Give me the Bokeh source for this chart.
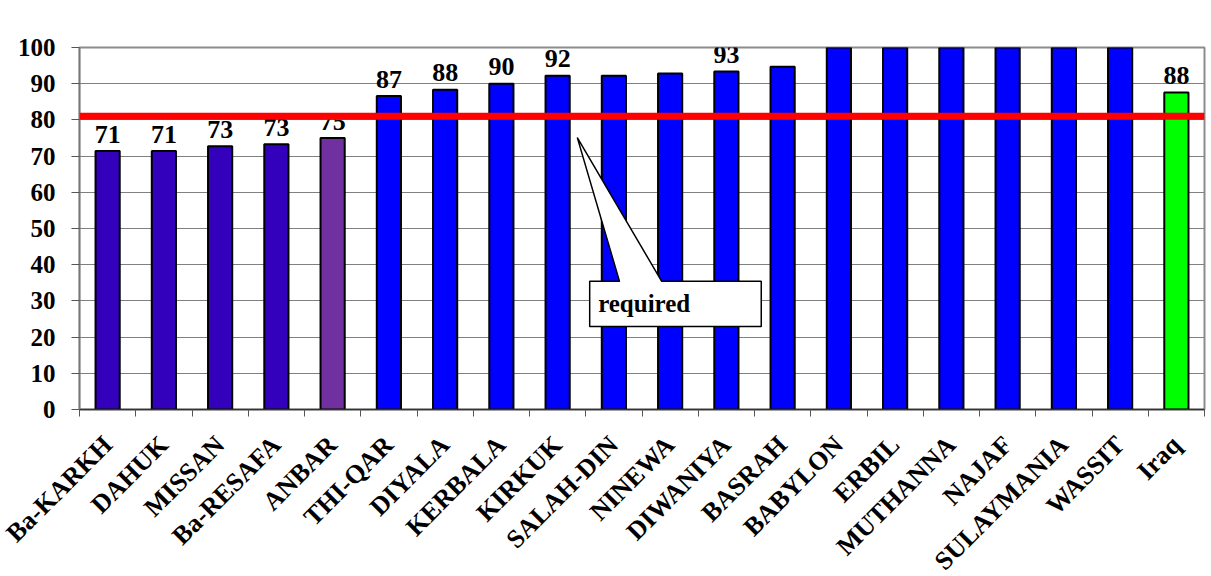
import math
from bokeh.plotting import figure
from bokeh.models import ColumnDataSource, Range1d, FixedTicker, Span
from bokeh.core.properties import value
from bokeh.embed import file_html
from bokeh.resources import INLINE

# ---- data ----
categories = ["Ba-KARKH", "DAHUK", "MISSAN", "Ba-RESAFA", "ANBAR", "THI-QAR", "DIYALA",
              "KERBALA", "KIRKUK", "SALAH-DIN", "NINEWA", "DIWANIYA", "BASRAH", "BABYLON",
              "ERBIL", "MUTHANNA", "NAJAF", "SULAYMANIA", "WASSIT", "Iraq"]
values = [71.4, 71.4, 72.7, 73.3, 75.0, 86.6, 88.3, 90.0, 92.2, 92.2, 92.8, 93.4, 94.7,
          100, 100, 100, 100, 100, 100, 87.6]
shown_labels = ["71", "71", "73", "73", "75", "87", "88", "90", "92", "", "", "93", "",
                "100", "", "100", "", "", "100", "88"]
groups = ["low"] * 4 + ["anbar"] + ["high"] * 14 + ["iraq"]
required_level = 81
y_ticks = list(range(0, 101, 10))

# ---- styles ----
group_colors = {"low": "#3300BB", "anbar": "#7030A0", "high": "#0000FF", "iraq": "#00FF00"}
FONT = "Liberation Serif"

n = len(categories)
xs = [i + 0.5 for i in range(n)]
src = ColumnDataSource(dict(x=xs, top=values, lab=shown_labels,
                            color=[group_colors[g] for g in groups]))

p = figure(frame_width=1125, frame_height=362, output_backend="svg", toolbar_location=None,
           x_range=Range1d(0, n), y_range=Range1d(0, 100),
           min_border_left=79, min_border_right=2, min_border_top=47, min_border_bottom=165)
p.background_fill_color = "white"
p.border_fill_color = "white"
p.outline_line_color = "#8c8c8c"
p.outline_line_width = 2

p.vbar(x="x", top="top", width=0.43, bottom=0, source=src, fill_color="color",
       line_color="black", line_width=2)

p.text(x="x", y="top", text="lab", source=src, text_align="center", text_baseline="alphabetic",
       y_offset=-17, text_font=value(FONT), text_font_style="bold", text_font_size="26px",
       text_color="black")

# callout "required"
kx = 8.0  # anchored near the KIRKUK / SALAH-DIN boundary
tip = (kx + 0.85, 75.1)
box_l, box_r, box_b, box_t = kx + 1.07, kx + 4.12, 22.9, 35.4
base1, base2 = kx + 1.6, kx + 2.35
p.patch(x=[box_l, base1, tip[0], base2, box_r, box_r, box_l],
        y=[box_t, box_t, tip[1], box_t, box_t, box_b, box_b],
        fill_color="white", line_color="black", line_width=1.5)
p.text(x=[box_l + 0.15], y=[(box_t + box_b) / 2], text=["required"], text_align="left",
       text_baseline="middle", text_font=value(FONT), text_font_style="bold",
       text_font_size="25px", text_color="black")

p.add_layout(Span(location=required_level, dimension="width", line_color="#FF0000", line_width=7))

# axes
p.xgrid.visible = False
p.ygrid.ticker = FixedTicker(ticks=y_ticks)
p.ygrid.grid_line_color = "#808080"
p.ygrid.grid_line_width = 1

xa = p.xaxis[0]
xa.ticker = FixedTicker(ticks=xs, minor_ticks=list(range(0, n + 1)))
xa.major_label_overrides = {x: c for x, c in zip(xs, categories)}
xa.major_tick_out = 0
xa.major_tick_in = 0
xa.minor_tick_out = 7
xa.minor_tick_in = 0
xa.minor_tick_line_color = "#555555"
xa.axis_line_color = "#333333"
xa.axis_line_width = 1.5
xa.major_label_orientation = math.pi / 4
xa.major_label_text_font = FONT
xa.major_label_text_font_style = "bold"
xa.major_label_text_font_size = "26px"
xa.major_label_text_color = "black"
xa.major_label_standoff = 24

ya = p.yaxis[0]
ya.ticker = FixedTicker(ticks=y_ticks)
ya.minor_tick_out = 0
ya.minor_tick_in = 0
ya.major_tick_out = 8
ya.major_tick_in = 0
ya.major_tick_line_color = "#555555"
ya.axis_line_color = "#777777"
ya.axis_line_width = 1.5
ya.major_label_text_font = FONT
ya.major_label_text_font_style = "bold"
ya.major_label_text_font_size = "25px"
ya.major_label_text_color = "black"
ya.major_label_standoff = 16

open("out.html", "w").write(file_html(p, INLINE))
